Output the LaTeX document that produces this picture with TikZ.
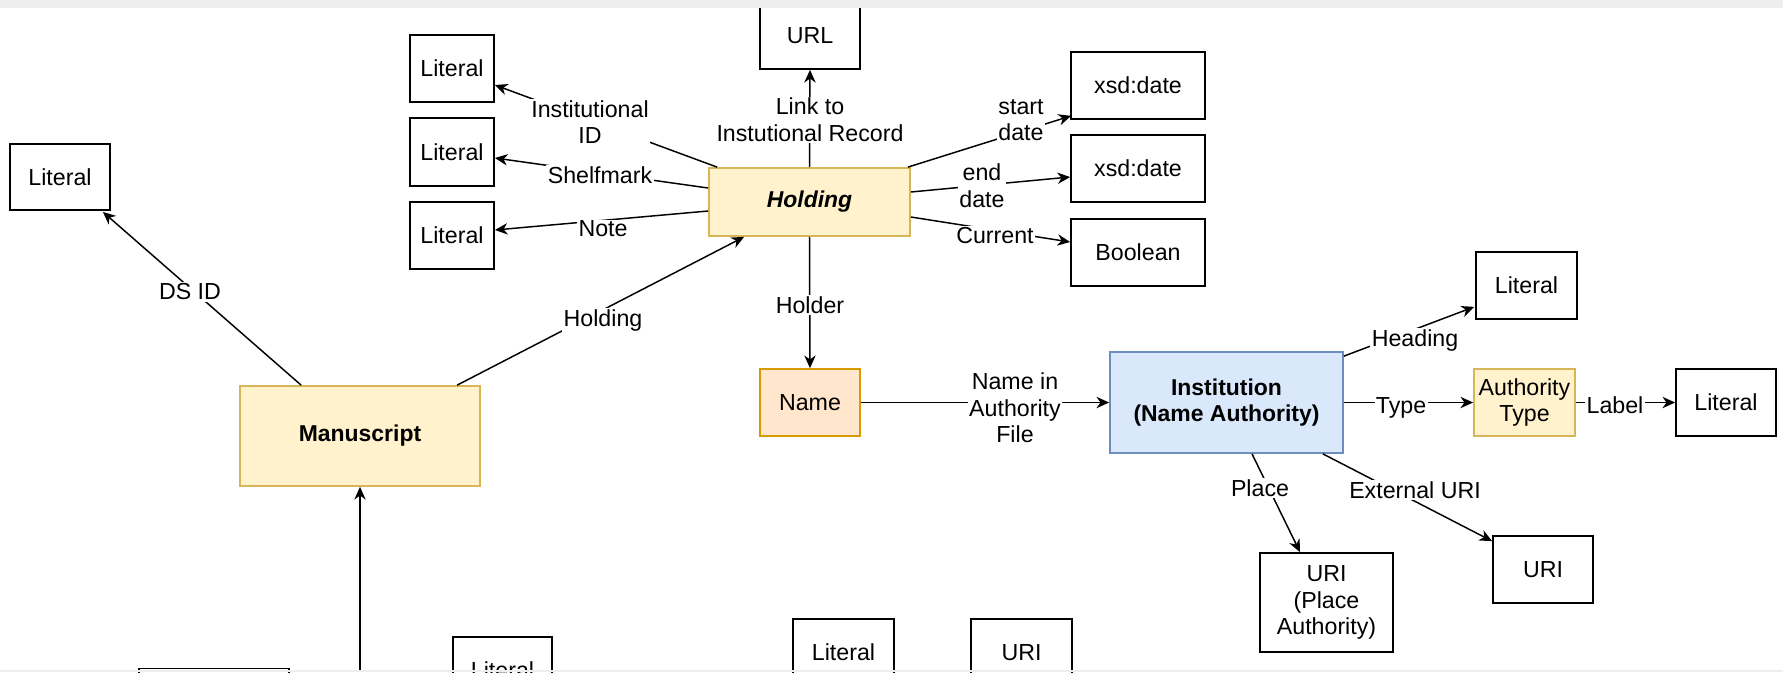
\documentclass[tikz,border=0pt]{standalone}
\usepackage{fontspec}
\setmainfont{Liberation Sans}
\usetikzlibrary{arrows.meta,calc}

\definecolor{classFill}{HTML}{FFF2CC}
\definecolor{classLine}{HTML}{D6B656}
\definecolor{nameFill}{HTML}{FFE6CC}
\definecolor{nameLine}{HTML}{D79B00}
\definecolor{instFill}{HTML}{DAE8FC}
\definecolor{instLine}{HTML}{6C8EBF}
\definecolor{frameGray}{HTML}{EEEEEE}

\begin{document}
\begin{tikzpicture}[x=0.75pt,y=-0.75pt,
  every node/.style={font=\fontsize{17.4}{20}\selectfont, align=center},
  sz/.style 2 args={minimum width=#1*0.75pt, minimum height=#2*0.75pt, inner sep=0pt},
  valbox/.style={draw=black, line width=1.3pt, fill=white},
  classbox/.style={draw=classLine, line width=1.3pt, fill=classFill},
  namebox/.style={draw=nameLine, line width=1.3pt, fill=nameFill},
  instbox/.style={draw=instLine, line width=1.3pt, fill=instFill},
  edge/.style={draw=black, line width=1.1pt, -{Stealth[length=9.5pt, width=8.5pt, inset=3pt]}},
  lbl/.style={fill=white, inner sep=1pt}]

\useasboundingbox (0,0) rectangle (1783,672);
\clip (0,0) rectangle (1783,672);

% ---- entity boxes ----
\node[classbox, sz={240}{100}, font=\fontsize{17.2}{20}\selectfont\bfseries] (ms) at (360,436) {Manuscript};
\node[classbox, sz={201}{68}, font=\fontsize{17.2}{20}\selectfont\bfseries\itshape] (hold) at (809.5,202) {Holding};
\node[namebox, sz={100}{67}] (name) at (810,402.5) {Name};
\node[instbox, sz={233}{101}, font=\fontsize{17.2}{20}\selectfont\bfseries] (inst) at (1226.5,402.5) {Institution\\(Name Authority)};
\node[classbox, sz={101}{67}] (atype) at (1524.5,402.5) {Authority\\Type};

% ---- value boxes ----
\node[valbox, sz={100}{66}] (lit0) at (60,177) {Literal};
\node[valbox, sz={84}{67}] (lit1) at (452,68.5) {Literal};
\node[valbox, sz={84}{68}] (lit2) at (452,152) {Literal};
\node[valbox, sz={84}{67}] (lit3) at (452,235.5) {Literal};
\node[valbox, sz={100}{67}] (url) at (810,35.5) {URL};
\node[valbox, sz={134}{67}] (xsd1) at (1138,85.5) {xsd:date};
\node[valbox, sz={134}{67}] (xsd2) at (1138,168.5) {xsd:date};
\node[valbox, sz={134}{67}] (bool) at (1138,252.5) {Boolean};
\node[valbox, sz={101}{67}] (lhead) at (1526.5,285.5) {Literal};
\node[valbox, sz={100}{67}] (llabel) at (1726,402.5) {Literal};
\node[valbox, sz={133}{99}] (uplace) at (1326.5,602.5) {URI\\(Place\\Authority)};
\node[valbox, sz={100}{67}] (uext) at (1543,569.5) {URI};

% ---- boxes running off the lower edge ----
\node[valbox, sz={150}{67}] (lowA) at (214,702) {};
\node[valbox, sz={99}{67}] (lowB) at (502.5,670.5) {Literal};
\node[valbox, sz={101}{67}] (lowC) at (843.5,652.5) {Literal};
\node[valbox, sz={101}{67}] (lowD) at (1021.5,652.5) {URI};
\coordinate (msrc) at (360,672);

% ---- connectors ----
\draw[edge] ($(ms.north west)+(62,0)$) -- ($(lit0.south east)+(-8,1)$)
  node[lbl] (lDS) at (190,292) {DS ID};
\draw[edge] ($(ms.north west)+(218,0)$) -- ($(hold.south west)+(36,0)$)
  node[lbl] (lHold) at (603,320) {Holding};
\draw[edge] ($(hold.north west)+(9,0)$) -- ($(lit1.east)+(0,16.5)$)
  node[lbl] (lInst) at (590,122) {Institutional\\ID};
\draw[edge] ($(hold.west)+(0,-14)$) -- ($(lit2.east)+(0,6)$)
  node[lbl] (lShelf) at (600,175) {Shelfmark};
\draw[edge] ($(hold.west)+(0,9)$) -- ($(lit3.east)+(0,-5.5)$)
  node[lbl] (lNote) at (603,229) {Note};
\draw[edge] (hold.north) -- (url.south)
  node[lbl] (lLink) at (810,120) {Link to\\Instutional Record};
\draw[edge] ($(hold.north east)+(-3,0)$) -- ($(xsd1.south west)+(1,-4)$)
  node[lbl] (lStart) at (1021,120) {start\\date};
\draw[edge] ($(hold.east)+(0,-10)$) -- ($(xsd2.west)+(0,8.5)$)
  node[lbl] (lEnd) at (982,186) {end\\date};
\draw[edge] ($(hold.east)+(0,15)$) -- ($(bool.west)+(0,-10.5)$)
  node[lbl] (lCur) at (995,236) {Current};
\draw[edge] (hold.south) -- (name.north)
  node[lbl] (lHolder) at (810,305) {Holder};
\draw[edge] (name.east) -- (inst.west)
  node[lbl] (lNIA) at (1015,408) {Name in\\Authority\\File};
\draw[edge] ($(inst.north east)+(0,5)$) -- ($(lhead.south west)+(-1,-13)$)
  node[lbl] (lHead) at (1415,340) {Heading};
\draw[edge] (inst.east) -- (atype.west)
  node[lbl] (lType) at (1401,408) {Type};
\draw[edge] (atype.east) -- (llabel.west)
  node[lbl] (lLabel) at (1615,405) {Label};
\draw[edge] ($(inst.south)+(25.5,0)$) -- ($(uplace.north)+(-26.5,0)$)
  node[lbl] (lPlace) at (1260,488) {Place};
\draw[edge] ($(inst.south east)+(-21,0)$) -- ($(uext.north west)+(0,6)$)
  node[lbl] (lExt) at (1415,490) {External URI};
\draw[edge] (msrc) -- (ms.south);

% ---- window bands ----
\fill[frameGray] (0,0) rectangle (1783,8);
\fill[frameGray] (0,669.5) rectangle (1783,672);
\end{tikzpicture}
\end{document}
